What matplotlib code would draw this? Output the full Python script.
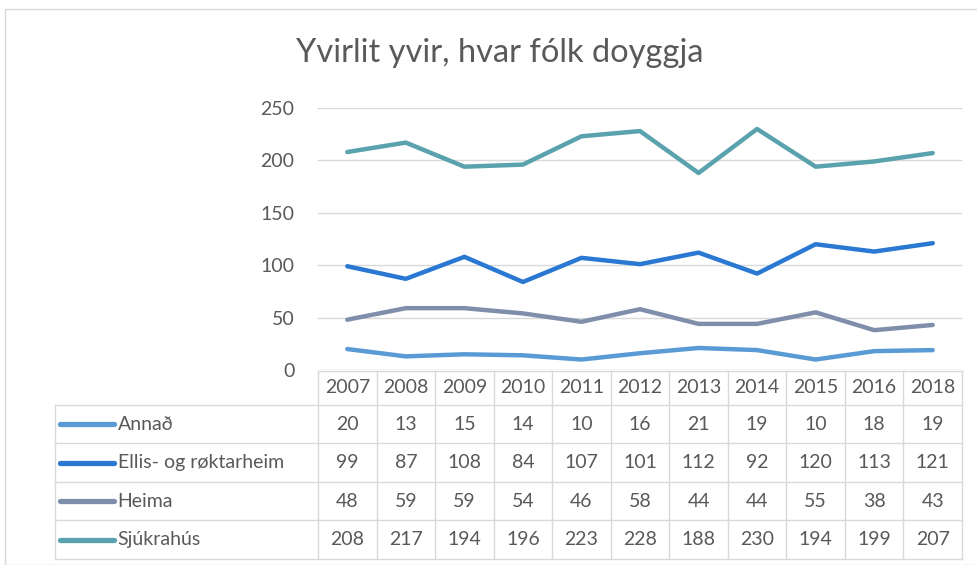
import numpy as np
import matplotlib
matplotlib.use('Agg')
import matplotlib.pyplot as plt
from matplotlib.patches import Rectangle

plt.rcParams['font.family'] = ['Lato', 'DejaVu Sans']

years = ['2007', '2008', '2009', '2010', '2011', '2012', '2013', '2014', '2015', '2016', '2018']
series_names = ['Annað', 'Ellis- og røktarheim', 'Heima', 'Sjúkrahús']
annad = [20, 13, 15, 14, 10, 16, 21, 19, 10, 18, 19]
ellis = [99, 87, 108, 84, 107, 101, 112, 92, 120, 113, 121]
heima = [48, 59, 59, 54, 46, 58, 44, 44, 55, 38, 43]
sjukrahus = [208, 217, 194, 196, 223, 228, 188, 230, 194, 199, 207]
series_values = [annad, ellis, heima, sjukrahus]
series_colors = ['#5b9bd5', '#2a78d2', '#7f8fab', '#5aa2ae']

W, H = 978, 565
fig = plt.figure(figsize=(W / 100, H / 100), dpi=100)
text_col = '#595959'
grid_col = '#d9d9d9'

# outer chart border
fig.add_artist(Rectangle((5 / W, 0), 1.2, 1 - 9 / H, transform=fig.transFigure,
                         fill=False, edgecolor=grid_col, linewidth=1))

fig.text(500 / W, 1 - 53 / H, 'Yvirlit yvir, hvar fólk doyggja', ha='center',
         va='center', fontsize=23.5, color=text_col)

# ── line chart ────────────────────────────────────────────────
x0, x1 = 318, 962
ax = fig.add_axes([x0 / W, 1 - 370 / H, (x1 - x0) / W, 262 / H])
x = np.arange(len(years))
for vals, col in zip(series_values, series_colors):
    ax.plot(x, vals, color=col, linewidth=3.2, solid_capstyle='round',
            solid_joinstyle='round', zorder=3)
ax.set_xlim(-0.5, len(years) - 0.5)
ax.set_ylim(0, 250)
ax.set_yticks(np.arange(0, 251, 50))
ax.set_xticks([])
ax.grid(axis='y', color=grid_col, linewidth=1)
ax.set_axisbelow(True)
for s in ax.spines.values():
    s.set_visible(False)
ax.tick_params(axis='y', length=0, pad=17, labelsize=14, labelcolor=text_col)

# ── data table ────────────────────────────────────────────────
hdr = 0.88
nrows = len(series_names)
tab = fig.add_axes([x0 / W, 1 - 559 / H, (x1 - x0) / W, 188 / H])
tab.set_xlim(-0.5, len(years) - 0.5)
tab.set_ylim(hdr + nrows, 0)
tab.axis('off')
left = -0.5 - (x0 - 55) / ((x1 - x0) / len(years))

lk = dict(color=grid_col, linewidth=1, clip_on=False)
tab.plot([-0.5, len(years) - 0.5], [0, 0], **lk)
for r in range(nrows + 1):
    tab.plot([left, len(years) - 0.5], [hdr + r, hdr + r], **lk)
for c in range(len(years) + 1):
    tab.plot([c - 0.5, c - 0.5], [0, hdr + nrows], **lk)
tab.plot([left, left], [hdr, hdr + nrows], **lk)

for c, yr in enumerate(years):
    tab.text(c, hdr / 2, yr, ha='center', va='center', fontsize=14, color=text_col)
for r, (name, vals, col) in enumerate(zip(series_names, series_values, series_colors)):
    yc = hdr + r + 0.5
    tab.plot([left + 0.09, left + 1.0], [yc, yc], color=col, linewidth=3.8,
             solid_capstyle='round', clip_on=False)
    tab.text(left + 1.07, yc, name, ha='left', va='center', fontsize=14, color=text_col)
    for c, v in enumerate(vals):
        tab.text(c, yc, str(v), ha='center', va='center', fontsize=14, color=text_col)

fig.savefig('out.png', dpi=100)
